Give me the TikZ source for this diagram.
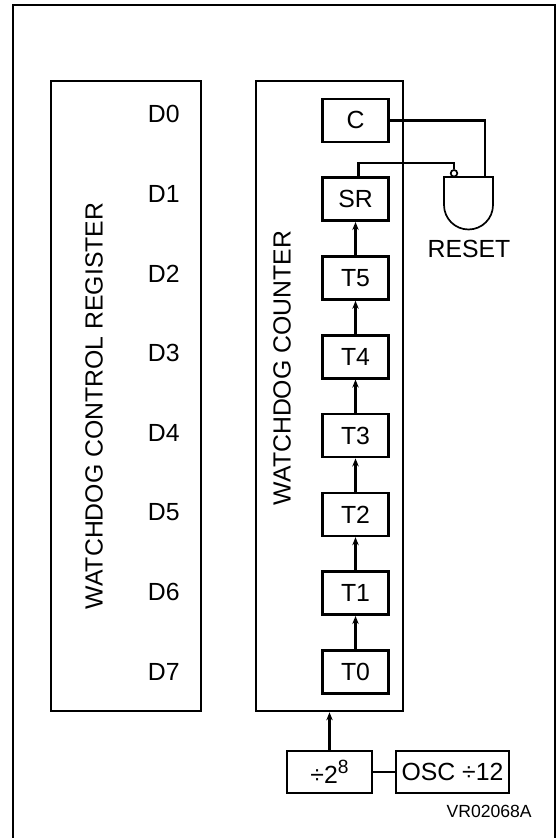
\documentclass[tikz,border=0pt]{standalone}
\usepackage{fontspec}
\setmainfont{Liberation Sans}
\usepackage{tikz}
\usetikzlibrary{arrows.meta, positioning, calc}

\begin{document}
\begin{tikzpicture}[
    x=0.5pt, y=-0.5pt,
    line width=1.3pt,
    node distance=16.6pt,
    every node/.style={font=\fontsize{12.4}{14}\selectfont},
    cell/.style={rectangle, draw, minimum width=33pt, minimum height=21.5pt, inner sep=0pt},
    block/.style={rectangle, draw, minimum width=75pt, minimum height=315pt, inner sep=0pt},
    gateline/.style={line width=0.85pt},
    arrow/.style={-{Stealth[length=4pt,width=3.2pt]}}
]
    \useasboundingbox (0,0) rectangle (557,838);
    % frame
    \draw (13,838) -- (13,5) -- (555,5) -- (555,838);

    % register and counter
    \node[block] (register) at (126,396) {};
    \node[block, minimum width=73.5pt] (counter) at (329.5,396) {};
    \node[rotate=90] (reglabel) at (94,406) {WATCHDOG CONTROL REGISTER};
    \node[rotate=90] (cntlabel) at (282,368) {WATCHDOG COUNTER};
    \foreach \i in {0,...,7}
        \node[anchor=west] (d\i) at (140,{114+79.7*\i}) {D\i};

    % counter stages
    \node[cell] (T0) at (355.5,672) {T0};
    \node[cell, above=of T0] (T1) {T1};
    \node[cell, above=of T1] (T2) {T2};
    \node[cell, above=of T2] (T3) {T3};
    \node[cell, above=of T3] (T4) {T4};
    \node[cell, above=of T4] (T5) {T5};
    \node[cell, above=of T5] (SR) {SR};
    \node[cell, above=of SR] (C) {C};

    \draw[arrow] (T0) -- (T1);
    \draw[arrow] (T1) -- (T2);
    \draw[arrow] (T2) -- (T3);
    \draw[arrow] (T3) -- (T4);
    \draw[arrow] (T4) -- (T5);
    \draw[arrow] (T5) -- (SR);

    % reset gate
    \coordinate (gate) at (444,177);
    \draw[gateline] (gate) -- (493,177) -- (493,205)
        arc[start angle=0, end angle=-180, radius=12.25pt] -- cycle;
    \node[circle, draw, gateline, inner sep=0pt, minimum size=3.3pt] (bub) at (454,173.3) {};
    \coordinate (gin) at (485,177);
    \coordinate (srk) at (454,163);
    \node (reset) at (469,249) {RESET};

    \draw (C.east) -| (gin);
    \draw ([xshift=1.5pt]SR.north) |- (srk) -- (bub.north);

    % clock chain
    \node[cell, minimum width=42.5pt, minimum height=21pt] (div) at (329.5,772) {÷2\raisebox{0.42em}{\fontsize{9.6}{10}\selectfont 8}};
    \node[cell, minimum width=56.5pt, minimum height=21pt] (osc) at (452.5,772) {OSC ÷12};
    \draw (div) -- (osc);
    \draw[arrow] (div.north) -- (div.north |- counter.south);

    \node[anchor=east, inner sep=0pt, font=\fontsize{8.8}{10}\selectfont] (ref) at (533,811) {VR02068A};
\end{tikzpicture}
\end{document}
